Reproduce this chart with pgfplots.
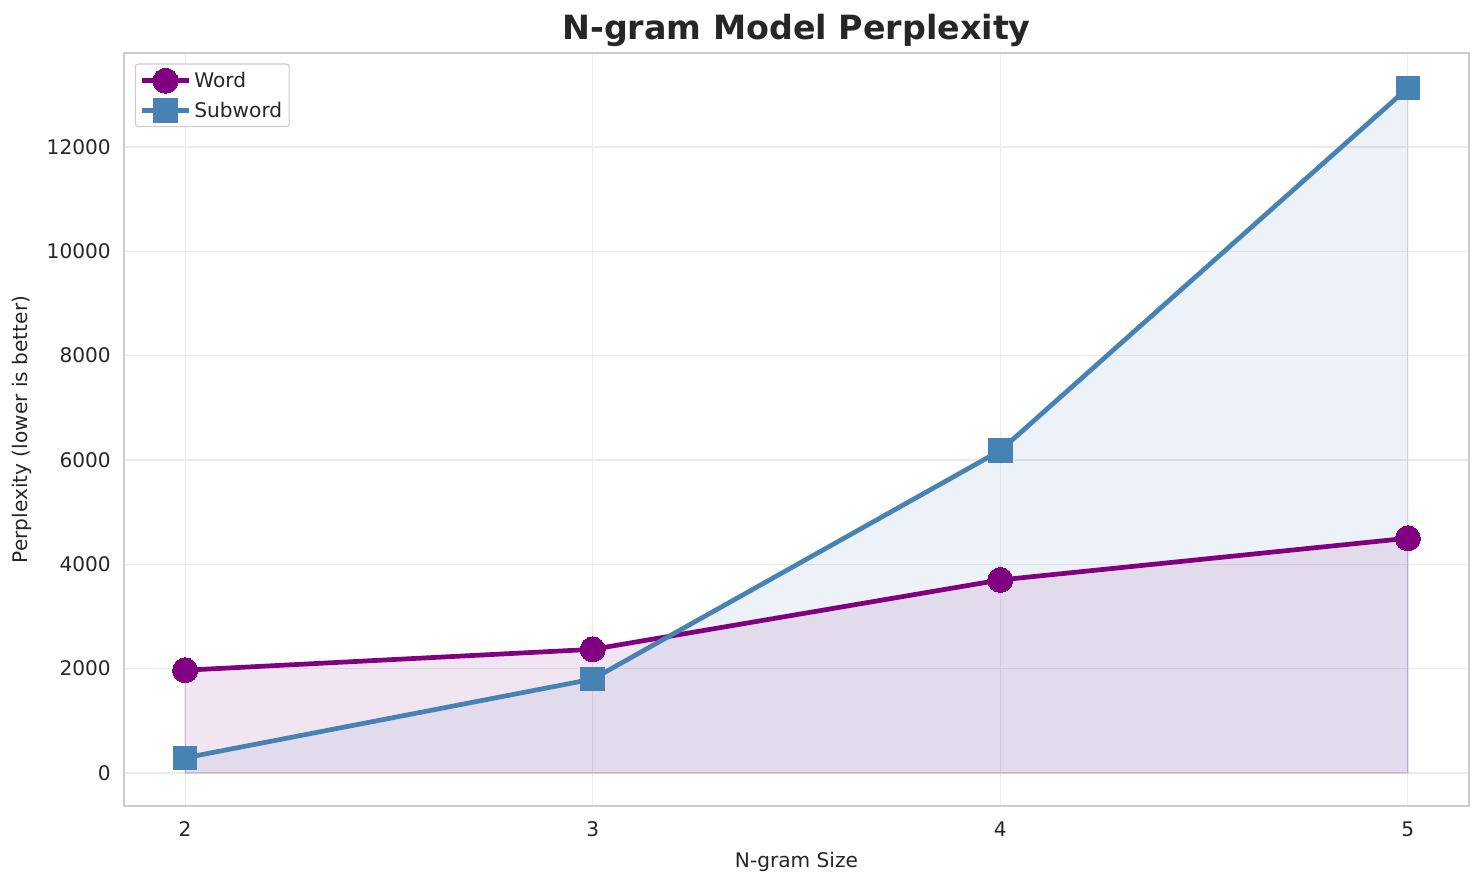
\documentclass[border=0pt]{standalone}
\usepackage{pgfplots}
\pgfplotsset{compat=1.18}
\usepackage{fontspec}
\setmainfont{DejaVu Sans}
\definecolor{wordc}{HTML}{800080}
\definecolor{subc}{HTML}{4682B4}
\definecolor{gridc}{HTML}{EBEBEB}
\definecolor{framec}{HTML}{CCCCCC}
\definecolor{textc}{HTML}{262626}
\begin{document}
\begin{tikzpicture}
\useasboundingbox (-89.28pt,-56.88pt) rectangle (979.2pt,580.32pt);
\begin{axis}[
  at={(0,0)}, anchor=south west,
  scale only axis,
  width=968.4pt, height=542.2pt,
  xmin=1.85, xmax=5.15,
  ymin=-633, ymax=13802,
  xtick={2,3,4,5},
  ytick={0,2000,4000,6000,8000,10000,12000},
  scaled ticks=false,
  /pgf/number format/fixed,
  /pgf/number format/assume math mode=true,
  /pgf/number format/1000 sep={},
  major tick length=0pt,
  grid=major,
  major grid style={draw=gridc, line width=0.8pt},
  axis line style={draw=framec, line width=1pt},
  tick label style={font=\fontsize{14.5}{17}\selectfont, text=textc},
  xticklabel style={yshift=-8pt},
  yticklabel style={xshift=-6pt},
  xlabel={N-gram Size},
  ylabel={Perplexity (lower is better)},
  label style={font=\fontsize{14.5}{17}\selectfont, text=textc},
  xlabel style={yshift=-4pt},
  ylabel style={yshift=4pt},
  title={N-gram Model Perplexity},
  title style={font=\fontsize{24}{28}\selectfont\bfseries, text=textc, yshift=-5pt},
  legend style={font=\fontsize{14.5}{17}\selectfont, text=textc, draw=framec, rounded corners=2pt, line width=0.8pt, at={(0.008,0.986)}, anchor=north west, row sep=4pt, inner sep=3pt},
  legend cell align=left,
  legend image code/.code={
    \draw[#1, mark repeat=2, mark phase=2] plot coordinates {(0cm,0cm) (0.6cm,0cm) (1.2cm,0cm)};
  },
]
\addplot[forget plot, fill=wordc, fill opacity=0.1, draw=wordc, draw opacity=0.12, line width=1pt]
  coordinates {(2,0) (2,1970) (3,2370) (4,3700) (5,4500) (5,0)} -- cycle;
\addplot[forget plot, fill=subc, fill opacity=0.1, draw=subc, draw opacity=0.12, line width=1pt]
  coordinates {(2,0) (2,290) (3,1800) (4,6180) (5,13130) (5,0)} -- cycle;
\addplot[wordc, line width=3.4pt, mark=*, mark size=9pt, mark options={fill=wordc, draw=wordc, line width=0pt}]
  coordinates {(2,1970) (3,2370) (4,3700) (5,4500)};
\addlegendentry{Word}
\addplot[subc, line width=3.4pt, mark=square*, mark size=8.5pt, mark options={fill=subc, draw=subc, line width=0pt}]
  coordinates {(2,290) (3,1800) (4,6180) (5,13130)};
\addlegendentry{Subword}
\end{axis}
\end{tikzpicture}
\end{document}
